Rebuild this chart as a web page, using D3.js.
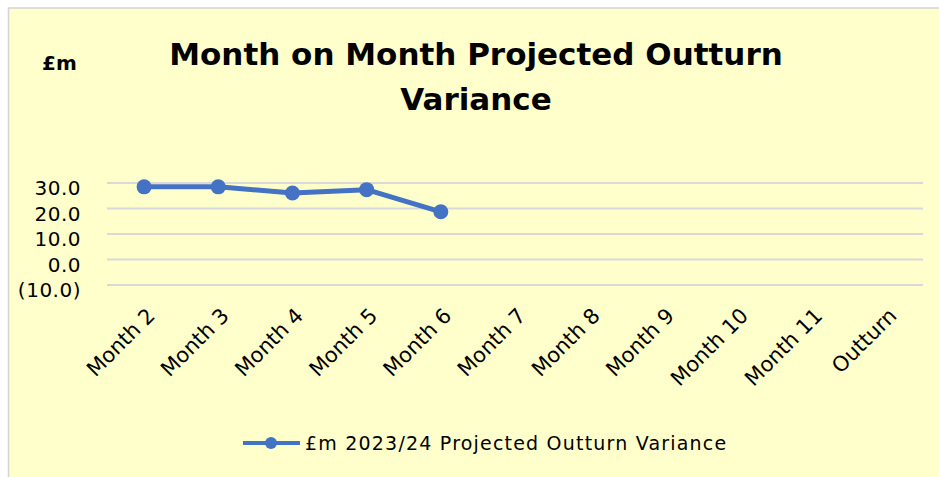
<!DOCTYPE html>
<html>
<head>
<meta charset="utf-8">
<script src="https://cdn.jsdelivr.net/npm/d3@7"></script>
<style>
  body { margin: 0; background: #ffffff; }
  svg { display: block; }
  .lbl { font-family: "DejaVu Sans", sans-serif; fill: #000; }
</style>
</head>
<body>
<div id="chart"></div>
<script>
// chart data
var categories = ["Month 2", "Month 3", "Month 4", "Month 5", "Month 6", "Month 7",
                  "Month 8", "Month 9", "Month 10", "Month 11", "Outturn"];
var variance = [28.5, 28.5, 26.1, 27.4, 18.7, null, null, null, null, null, null];
var yTicks = [30, 20, 10, 0, -10];
var seriesName = "£m 2023/24 Projected Outturn Variance";
var titleLines = ["Month on Month Projected Outturn", "Variance"];
var unitLabel = "£m";

var width = 939, height = 477;
var margin = { top: 183, right: 16, bottom: 192, left: 107 };

var svg = d3.select("#chart").append("svg")
    .attr("width", width)
    .attr("height", height);

// panel background
svg.append("rect")
    .attr("x", 8.5)
    .attr("y", 8)
    .attr("width", width)
    .attr("height", height)
    .attr("fill", "#ffffcc")
    .attr("stroke", "#d4d4d4")
    .attr("stroke-width", 1.5);

var x = d3.scaleBand()
    .domain(categories)
    .range([margin.left, width - margin.right]);

var y = d3.scaleLinear()
    .domain([-10, 30])
    .range([height - margin.bottom, margin.top]);

var fmt = function (v) {
  var s = d3.format(".1f")(Math.abs(v));
  return v < 0 ? "(" + s + ")" : s;
};

// gridlines
svg.append("g")
    .selectAll("line")
    .data(yTicks)
    .enter().append("line")
    .attr("x1", margin.left)
    .attr("x2", width - margin.right)
    .attr("y1", d => y(d))
    .attr("y2", d => y(d))
    .attr("stroke", "#d9d9d9")
    .attr("stroke-width", 2);

// y labels
svg.append("g")
    .selectAll("text")
    .data(yTicks)
    .enter().append("text")
    .attr("class", "lbl")
    .attr("x", 81)
    .attr("y", d => y(d) + 5)
    .attr("dy", "0.35em")
    .attr("text-anchor", "end")
    .style("font-size", "20px")
    .style("letter-spacing", "0.5px")
    .text(d => fmt(d));

// x labels, rotated
svg.append("g")
    .selectAll("text")
    .data(categories)
    .enter().append("text")
    .attr("class", "lbl")
    .attr("text-anchor", "end")
    .attr("transform", d => "translate(" + (x(d) + x.bandwidth() / 2 + 12) + ",317)rotate(-45)")
    .style("font-size", "21px")
    .text(d => d);

// series line
var points = categories.map((c, i) => ({ cat: c, v: variance[i] }))
    .filter(d => d.v !== null);

var line = d3.line()
    .x(d => x(d.cat) + x.bandwidth() / 2)
    .y(d => y(d.v));

svg.append("path")
    .datum(points)
    .attr("d", line)
    .attr("fill", "none")
    .attr("stroke", "#4472c4")
    .attr("stroke-width", 5)
    .attr("stroke-linejoin", "round");

svg.append("g")
    .selectAll("circle")
    .data(points)
    .enter().append("circle")
    .attr("cx", d => x(d.cat) + x.bandwidth() / 2)
    .attr("cy", d => y(d.v))
    .attr("r", 7.5)
    .attr("fill", "#4472c4");

// title
svg.append("text")
    .attr("class", "lbl")
    .attr("x", 476)
    .attr("text-anchor", "middle")
    .style("font-size", "31px")
    .style("font-weight", "bold")
    .selectAll("tspan")
    .data(titleLines)
    .enter().append("tspan")
    .attr("x", 476)
    .attr("y", (d, i) => 65 + i * 45)
    .text(d => d);

svg.append("text")
    .attr("class", "lbl")
    .attr("x", 42)
    .attr("y", 70)
    .style("font-size", "20px")
    .style("font-weight", "bold")
    .text(unitLabel);

// legend
var legend = svg.append("g");
legend.append("line")
    .attr("x1", 243)
    .attr("x2", 300)
    .attr("y1", 443)
    .attr("y2", 443)
    .attr("stroke", "#4472c4")
    .attr("stroke-width", 4);
legend.append("circle")
    .attr("cx", 271)
    .attr("cy", 443)
    .attr("r", 6)
    .attr("fill", "#4472c4");
legend.append("text")
    .attr("class", "lbl")
    .attr("x", 305)
    .attr("y", 450)
    .style("font-size", "19px")
    .style("letter-spacing", "1.2px")
    .text(seriesName);
</script>
</body>
</html>
